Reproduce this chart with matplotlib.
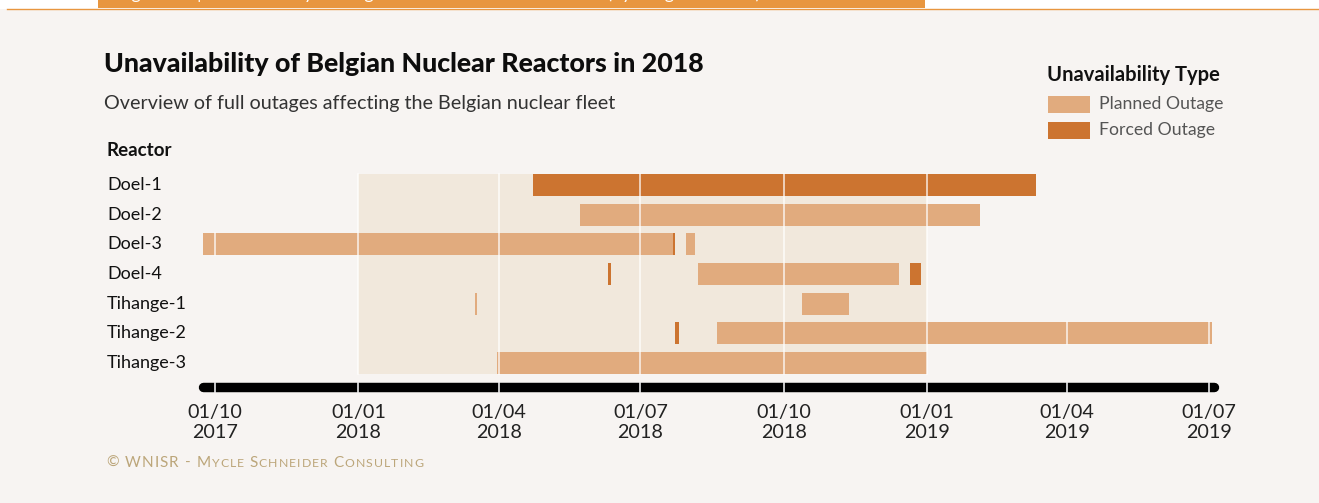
import matplotlib
matplotlib.use("Agg")
import matplotlib.pyplot as plt
import matplotlib.dates as mdates
from matplotlib.patches import Rectangle
from matplotlib.lines import Line2D
import datetime as dt

# ---------------- data ----------------
reactors = ["Doel-1", "Doel-2", "Doel-3", "Doel-4", "Tihange-1", "Tihange-2", "Tihange-3"]

outage_reactor = ["Doel-1", "Doel-2", "Doel-3", "Doel-3", "Doel-3", "Doel-4", "Doel-4", "Doel-4",
                  "Tihange-1", "Tihange-1", "Tihange-2", "Tihange-2", "Tihange-3"]
outage_start = ["2018-04-23", "2018-05-23", "2017-09-23", "2018-07-22", "2018-07-30", "2018-06-10",
                "2018-08-07", "2018-12-21", "2018-03-17", "2018-10-13", "2018-07-23", "2018-08-19",
                "2018-03-31"]
outage_end = ["2019-03-12", "2019-02-04", "2018-07-22", "2018-07-23", "2018-08-05", "2018-06-12",
              "2018-12-14", "2018-12-28", "2018-03-18", "2018-11-12", "2018-07-26", "2019-07-03",
              "2019-01-01"]
outage_type = ["Forced", "Planned", "Planned", "Forced", "Planned", "Forced",
               "Planned", "Forced", "Planned", "Planned", "Forced", "Planned",
               "Planned"]

tick_dates = ["2017-10-01", "2018-01-01", "2018-04-01", "2018-07-01", "2018-10-01",
              "2019-01-01", "2019-04-01", "2019-07-01"]
tick_labels = ["01/10\n2017", "01/01\n2018", "01/04\n2018", "01/07\n2018", "01/10\n2018",
               "01/01\n2019", "01/04\n2019", "01/07\n2019"]
highlight_start, highlight_end = "2018-01-01", "2019-01-01"
x_start, x_end = "2017-10-01", "2019-07-01"
axis_start, axis_end = "2017-09-23", "2019-07-04"

# ---------------- style ----------------
BG = "#F7F4F2"
PLANNED = "#E1AB7E"
FORCED = "#CC7430"
BAND = "#F1E8DC"
ORANGE = "#E8963F"
FONT = "Lato"
colors = {"Planned": PLANNED, "Forced": FORCED}

W, H = 1319, 503
def fx(x): return x / W
def fy(y): return 1 - y / H

def d(s):
    return mdates.date2num(dt.datetime.strptime(s, "%Y-%m-%d"))

fig = plt.figure(figsize=(W / 100, H / 100), dpi=100, facecolor=BG)

# top banner
fig.patches.append(Rectangle((0, fy(9)), 1, 9 / H, transform=fig.transFigure,
                             facecolor="white", edgecolor="none", zorder=0))
fig.patches.append(Rectangle((fx(98), fy(8)), fx(925) - fx(98), 8 / H, transform=fig.transFigure,
                             facecolor=ORANGE, edgecolor="none", zorder=1))
fig.lines.append(Line2D([fx(7), 1], [fy(9.3), fy(9.3)], transform=fig.transFigure,
                        color=ORANGE, lw=1.0, zorder=2))
fig.text(fx(117), fy(-0.8), "Figure 40 | Unavailability of Belgian Nuclear Reactors in 2018 (by Length of Time)",
         color="white", fontsize=13, family=FONT, va="baseline", ha="left", zorder=3)

# main axes (band area)
ax_l, ax_r, ax_t, ax_b = 215, 1209, 174, 374
ax = fig.add_axes([fx(ax_l), fy(ax_b), fx(ax_r) - fx(ax_l), (ax_b - ax_t) / H])
ax.set_facecolor("none")
for s in ax.spines.values():
    s.set_visible(False)
ax.set_xticks([])
ax.set_yticks([])
ax.set_xlim(d(x_start), d(x_end))
half = 0.371
ax.set_ylim(len(reactors) - 1 + half, -half)

ax.axvspan(d(highlight_start), d(highlight_end), ymin=0, ymax=1, color=BAND, lw=0, zorder=0)

for r, s, e, t in zip(outage_reactor, outage_start, outage_end, outage_type):
    i = reactors.index(r)
    ax.barh(i, d(e) - d(s), left=d(s), height=2 * half, color=colors[t], lw=0,
            zorder=2, clip_on=False)

# white grid lines: inside the highlighted band, and across bars
hs, he = d(highlight_start), d(highlight_end)
for td in tick_dates:
    x = d(td)
    if hs <= x <= he:
        ax.plot([x, x], [-half, len(reactors) - 1 + half], color="white", lw=1.1,
                alpha=0.85, zorder=3, clip_on=False)
    else:
        for r, s, e in zip(outage_reactor, outage_start, outage_end):
            if d(s) < x < d(e):
                i = reactors.index(r)
                ax.plot([x, x], [i - half, i + half], color="white", lw=1.1,
                        alpha=0.85, zorder=3, clip_on=False)

# timeline axis
y_axis = 6.825
ax.plot([d(axis_start), d(axis_end)], [y_axis, y_axis], color="black", lw=6.8,
        solid_capstyle="round", zorder=4, clip_on=False)
for td, lab in zip(tick_dates, tick_labels):
    ax.plot([d(td), d(td)], [y_axis - 0.15, y_axis + 0.15], color="white", lw=1.1,
            zorder=5, clip_on=False)
    ax.annotate(lab, xy=(d(td), y_axis), xycoords="data", xytext=(0, -12),
                textcoords="offset points", ha="center", va="top", fontsize=14.2,
                family=FONT, color="#222222", linespacing=1.22, annotation_clip=False)

# row labels
for i, r in enumerate(reactors):
    y_pix = 185 + 29.67 * i
    fig.text(fx(107), fy(y_pix), r, ha="left", va="center", fontsize=13, family=FONT,
             color="#111111")
fig.text(fx(107), fy(150), "Reactor", ha="left", va="center", fontsize=13.5, family=FONT,
         weight="bold", color="#111111")

# titles
fig.text(fx(104), fy(64), "Unavailability of Belgian Nuclear Reactors in 2018", ha="left",
         va="center", fontsize=19.3, family=FONT, weight="black", color="#0d0d0d")
fig.text(fx(104), fy(103), "Overview of full outages affecting the Belgian nuclear fleet",
         ha="left", va="center", fontsize=14.2, family=FONT, color="#333333")

# legend
fig.text(fx(1047), fy(75), "Unavailability Type", ha="left", va="center", fontsize=14.5,
         family=FONT, weight="bold", color="#111111")
for (lab, col), yc in zip([("Planned Outage", PLANNED), ("Forced Outage", FORCED)], [104, 130]):
    fig.patches.append(Rectangle((fx(1048), fy(yc + 8.5)), fx(1090) - fx(1048), 17 / H,
                                 transform=fig.transFigure, facecolor=col, edgecolor="none"))
    fig.text(fx(1099), fy(yc), lab, ha="left", va="center", fontsize=12.7, family=FONT,
             color="#555555")

# footer in small caps, letter-spaced
pieces = [("© WNISR - M", 11.0), ("YCLE ", 8.8), ("S", 11.0), ("CHNEIDER ", 8.8),
          ("C", 11.0), ("ONSULTING", 8.8)]
renderer = fig.canvas.get_renderer()
x = 106
for txt, fs in pieces:
    for ch in txt:
        t = fig.text(fx(x), fy(467), ch, ha="left", va="baseline", fontsize=fs, family=FONT,
                     color="#BCA67A")
        w = t.get_window_extent(renderer=renderer).width if ch != " " else fs * 0.35
        x += w + 1.1

fig.savefig("out.png", dpi=100, facecolor=BG)
